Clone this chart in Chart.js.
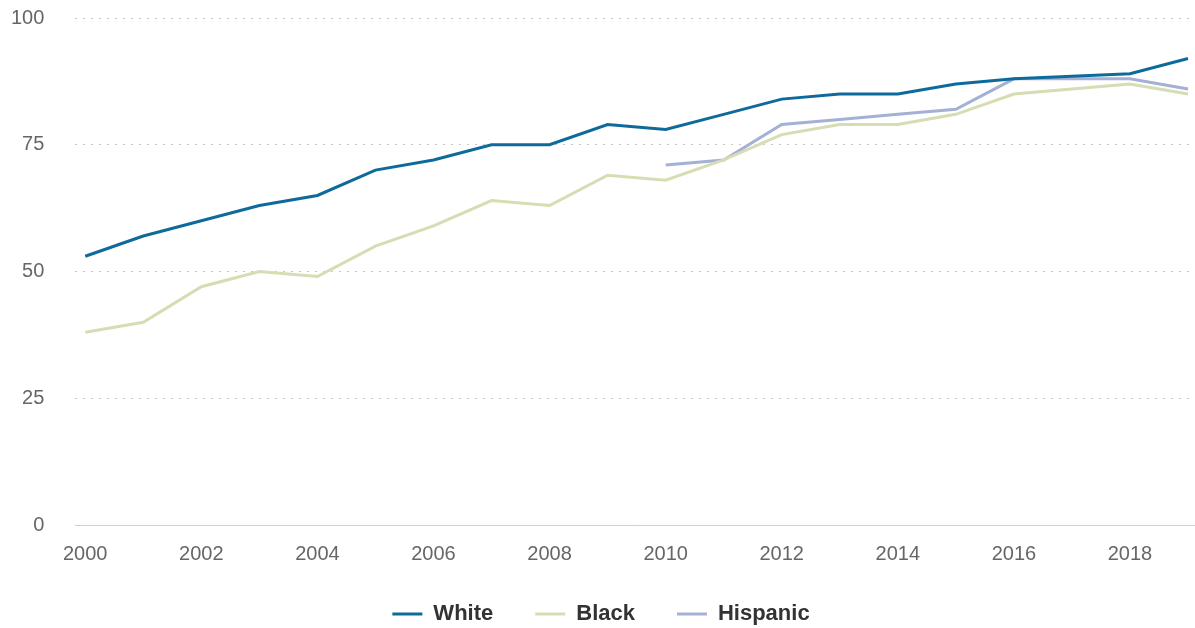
<!DOCTYPE html>
<html lang="en">

<head>
    <meta charset="UTF-8">
    <title>Chart</title>
    <script src="https://cdn.jsdelivr.net/npm/chart.js"></script>
    <style>
        html, body {
            margin: 0;
            padding: 0;
            background: #ffffff;
        }

        .chart-box {
            width: 1195px;
            height: 628px;
            position: relative;
        }
    </style>
</head>

<body>

    <div class="chart-box">
        <canvas id="myChart"></canvas>
    </div>

    <script>
        const years = [2000, 2001, 2002, 2003, 2004, 2005, 2006, 2007, 2008, 2009,
            2010, 2011, 2012, 2013, 2014, 2015, 2016, 2017, 2018, 2019];
        const white = [53, 57, 60, 63, 65, 70, 72, 75, 75, 79, 78, 81, 84, 85, 85, 87, 88, 88.5, 89, 92];
        const black = [38, 40, 47, 50, 49, 55, 59, 64, 63, 69, 68, 72, 77, 79, 79, 81, 85, 86, 87, 85];
        const hispanic = [null, null, null, null, null, null, null, null, null, null,
            71, 72, 79, 80, 81, 82, 88, 88, 88, 86];
        const xTicks = [2000, 2002, 2004, 2006, 2008, 2010, 2012, 2014, 2016, 2018];
        const yTicks = [0, 25, 50, 75, 100];

        function toPoints(values) {
            return years.map((yr, i) => ({ x: yr, y: values[i] }));
        }

        Chart.defaults.font.family = "'Liberation Sans', Arial, sans-serif";

        // fixed legend height so the item spacing doesn't eat the plot,
        // then pull the legend's top edge up a bit so the items sit higher
        const legendHeight = {
            id: 'legendHeight',
            beforeInit(chart) {
                const fit = chart.legend.fit;
                chart.legend.fit = function () {
                    fit.bind(chart.legend)();
                    this.height = 53;
                };
            },
            afterLayout(chart) {
                chart.legend.top -= 14;
            }
        };

        const ctx = document.getElementById('myChart').getContext('2d');
        new Chart(ctx, {
            type: 'line',
            data: {
                datasets: [{
                    label: 'White',
                    data: toPoints(white),
                    borderColor: '#0f6a9c',
                    backgroundColor: '#0f6a9c',
                    borderWidth: 3,
                    pointRadius: 0,
                    tension: 0
                }, {
                    label: 'Black',
                    data: toPoints(black),
                    borderColor: '#d6ddb3',
                    backgroundColor: '#d6ddb3',
                    borderWidth: 3,
                    pointRadius: 0,
                    tension: 0
                }, {
                    label: 'Hispanic',
                    data: toPoints(hispanic),
                    borderColor: '#a4b1d5',
                    backgroundColor: '#a4b1d5',
                    borderWidth: 3,
                    pointRadius: 0,
                    tension: 0
                }]
            },
            options: {
                responsive: true,
                maintainAspectRatio: false,
                animation: false,
                layout: {
                    padding: { left: 7, right: 0, top: 18, bottom: 0 }
                },
                plugins: {
                    tooltip: { enabled: false },
                    legend: {
                        position: 'bottom',
                        labels: {
                            boxWidth: 30,
                            boxHeight: 3,
                            padding: 42,
                            color: '#333333',
                            font: { size: 22, weight: 'bold' },
                            // flat line swatches, no outline
                            generateLabels: chart => {
                                const items = Chart.defaults.plugins.legend.labels.generateLabels(chart);
                                items.forEach(it => { it.lineWidth = 0; });
                                return items;
                            }
                        }
                    }
                },
                scales: {
                    x: {
                        type: 'linear',
                        min: 1999.83,
                        max: 2019.12,
                        afterBuildTicks: axis => {
                            axis.ticks = xTicks.map(v => ({ value: v }));
                        },
                        grid: { display: false },
                        border: { display: true, color: '#c2d2ea', width: 1 },
                        ticks: {
                            color: '#666666',
                            font: { size: 20 },
                            padding: 9,
                            maxRotation: 0,
                            callback: v => String(v)
                        }
                    },
                    y: {
                        min: 0,
                        max: 100,
                        afterBuildTicks: axis => {
                            axis.ticks = yTicks.map(v => ({ value: v }));
                        },
                        grid: {
                            drawTicks: true,
                            tickLength: 27,
                            tickColor: 'rgba(0,0,0,0)',
                            color: c => c.tick && c.tick.value === 0 ? 'rgba(0,0,0,0)' : '#c8c8c8',
                            lineWidth: 1
                        },
                        border: { display: false, dash: [2, 6] },
                        ticks: {
                            color: '#666666',
                            font: { size: 20 },
                            padding: 4
                        }
                    }
                }
            },
            plugins: [legendHeight]
        });
    </script>

</body>

</html>
